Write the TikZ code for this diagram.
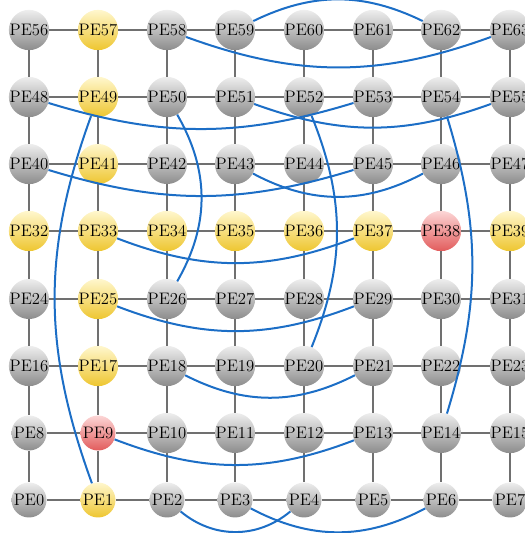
\documentclass[tikz,border=0pt]{standalone}
\usepackage{tikz}
\usetikzlibrary{arrows.meta}

\definecolor{ballgraytop}{RGB}{238,238,238}
\definecolor{ballgraybot}{RGB}{140,140,140}
\definecolor{ballyeltop}{RGB}{255,247,205}
\definecolor{ballyelbot}{RGB}{238,198,48}
\definecolor{ballredtop}{RGB}{252,214,214}
\definecolor{ballredbot}{RGB}{226,92,92}
\definecolor{meshgray}{RGB}{112,112,112}
\definecolor{linkblue}{RGB}{28,110,198}

\tikzset{
  pe/.style={circle,minimum size=26.25pt,inner sep=0pt,font=\fontsize{12.5}{13}\selectfont,
    shading=axis,top color=ballgraytop,bottom color=ballgraybot},
  peyel/.style={pe,top color=ballyeltop,bottom color=ballyelbot},
  pered/.style={pe,top color=ballredtop,bottom color=ballredbot},
  mesh/.style={draw=meshgray,line width=1.2pt},
  hop/.style={draw=linkblue,line width=1.5pt}
}

\begin{document}
\begin{tikzpicture}[x=0.75pt,y=0.75pt]
\useasboundingbox (0,0) rectangle (525,533);
\clip (0,0) rectangle (525,533);
% row 7
\node[pe] (p56) at (29,503) {PE56};
\node[peyel] (p57) at (98,503) {PE57};
\node[pe] (p58) at (167,503) {PE58};
\node[pe] (p59) at (235,503) {PE59};
\node[pe] (p60) at (304,503) {PE60};
\node[pe] (p61) at (373,503) {PE61};
\node[pe] (p62) at (441,503) {PE62};
\node[pe] (p63) at (510,503) {PE63};
% row 6
\node[pe] (p48) at (29,436) {PE48};
\node[peyel] (p49) at (98,436) {PE49};
\node[pe] (p50) at (167,436) {PE50};
\node[pe] (p51) at (235,436) {PE51};
\node[pe] (p52) at (304,436) {PE52};
\node[pe] (p53) at (373,436) {PE53};
\node[pe] (p54) at (441,436) {PE54};
\node[pe] (p55) at (510,436) {PE55};
% row 5
\node[pe] (p40) at (29,369) {PE40};
\node[peyel] (p41) at (98,369) {PE41};
\node[pe] (p42) at (167,369) {PE42};
\node[pe] (p43) at (235,369) {PE43};
\node[pe] (p44) at (304,369) {PE44};
\node[pe] (p45) at (373,369) {PE45};
\node[pe] (p46) at (441,369) {PE46};
\node[pe] (p47) at (510,369) {PE47};
% row 4
\node[peyel] (p32) at (29,302) {PE32};
\node[peyel] (p33) at (98,302) {PE33};
\node[peyel] (p34) at (167,302) {PE34};
\node[peyel] (p35) at (235,302) {PE35};
\node[peyel] (p36) at (304,302) {PE36};
\node[peyel] (p37) at (373,302) {PE37};
\node[pered] (p38) at (441,302) {PE38};
\node[peyel] (p39) at (510,302) {PE39};
% row 3
\node[pe] (p24) at (29,234) {PE24};
\node[peyel] (p25) at (98,234) {PE25};
\node[pe] (p26) at (167,234) {PE26};
\node[pe] (p27) at (235,234) {PE27};
\node[pe] (p28) at (304,234) {PE28};
\node[pe] (p29) at (373,234) {PE29};
\node[pe] (p30) at (441,234) {PE30};
\node[pe] (p31) at (510,234) {PE31};
% row 2
\node[pe] (p16) at (29,167) {PE16};
\node[peyel] (p17) at (98,167) {PE17};
\node[pe] (p18) at (167,167) {PE18};
\node[pe] (p19) at (235,167) {PE19};
\node[pe] (p20) at (304,167) {PE20};
\node[pe] (p21) at (373,167) {PE21};
\node[pe] (p22) at (441,167) {PE22};
\node[pe] (p23) at (510,167) {PE23};
% row 1
\node[pe] (p8) at (29,100) {PE8};
\node[pered] (p9) at (98,100) {PE9};
\node[pe] (p10) at (167,100) {PE10};
\node[pe] (p11) at (235,100) {PE11};
\node[pe] (p12) at (304,100) {PE12};
\node[pe] (p13) at (373,100) {PE13};
\node[pe] (p14) at (441,100) {PE14};
\node[pe] (p15) at (510,100) {PE15};
% row 0
\node[pe] (p0) at (29,33) {PE0};
\node[peyel] (p1) at (98,33) {PE1};
\node[pe] (p2) at (167,33) {PE2};
\node[pe] (p3) at (235,33) {PE3};
\node[pe] (p4) at (304,33) {PE4};
\node[pe] (p5) at (373,33) {PE5};
\node[pe] (p6) at (441,33) {PE6};
\node[pe] (p7) at (510,33) {PE7};
% mesh rows
\draw[mesh] (p56)--(p57)--(p58)--(p59)--(p60)--(p61)--(p62)--(p63);
\draw[mesh] (p48)--(p49)--(p50)--(p51)--(p52)--(p53)--(p54)--(p55);
\draw[mesh] (p40)--(p41)--(p42)--(p43)--(p44)--(p45)--(p46)--(p47);
\draw[mesh] (p32)--(p33)--(p34)--(p35)--(p36)--(p37)--(p38)--(p39);
\draw[mesh] (p24)--(p25)--(p26)--(p27)--(p28)--(p29)--(p30)--(p31);
\draw[mesh] (p16)--(p17)--(p18)--(p19)--(p20)--(p21)--(p22)--(p23);
\draw[mesh] (p8)--(p9)--(p10)--(p11)--(p12)--(p13)--(p14)--(p15);
\draw[mesh] (p0)--(p1)--(p2)--(p3)--(p4)--(p5)--(p6)--(p7);
% mesh columns
\draw[mesh] (p56)--(p48)--(p40)--(p32)--(p24)--(p16)--(p8)--(p0);
\draw[mesh] (p57)--(p49)--(p41)--(p33)--(p25)--(p17)--(p9)--(p1);
\draw[mesh] (p58)--(p50)--(p42)--(p34)--(p26)--(p18)--(p10)--(p2);
\draw[mesh] (p59)--(p51)--(p43)--(p35)--(p27)--(p19)--(p11)--(p3);
\draw[mesh] (p60)--(p52)--(p44)--(p36)--(p28)--(p20)--(p12)--(p4);
\draw[mesh] (p61)--(p53)--(p45)--(p37)--(p29)--(p21)--(p13)--(p5);
\draw[mesh] (p62)--(p54)--(p46)--(p38)--(p30)--(p22)--(p14)--(p6);
\draw[mesh] (p63)--(p55)--(p47)--(p39)--(p31)--(p23)--(p15)--(p7);
% express links
\draw[hop] (p59) to[out=26,in=154] (p62);
\draw[hop] (p58) to[out=-20,in=200] (p63);
\draw[hop] (p48) to[out=-17,in=197] (p53);
\draw[hop] (p51) to[out=-20,in=200] (p55);
\draw[hop] (p40) to[out=-17,in=197] (p45);
\draw[hop] (p43) to[out=-28,in=208] (p46);
\draw[hop] (p33) to[out=-21,in=201] (p37);
\draw[hop] (p25) to[out=-21,in=201] (p29);
\draw[hop] (p18) to[out=-27,in=207] (p21);
\draw[hop] (p9) to[out=-21,in=201] (p13);
\draw[hop] (p2) to[out=-40,in=220] (p4);
\draw[hop] (p3) to[out=-28,in=208] (p6);
\draw[hop] (p49) to[out=250,in=110] (p1);
\draw[hop] (p50) to[out=-60,in=60] (p26);
\draw[hop] (p52) to[out=-68,in=68] (p20);
\draw[hop] (p54) to[out=-73,in=73] (p14);
\end{tikzpicture}
\end{document}
